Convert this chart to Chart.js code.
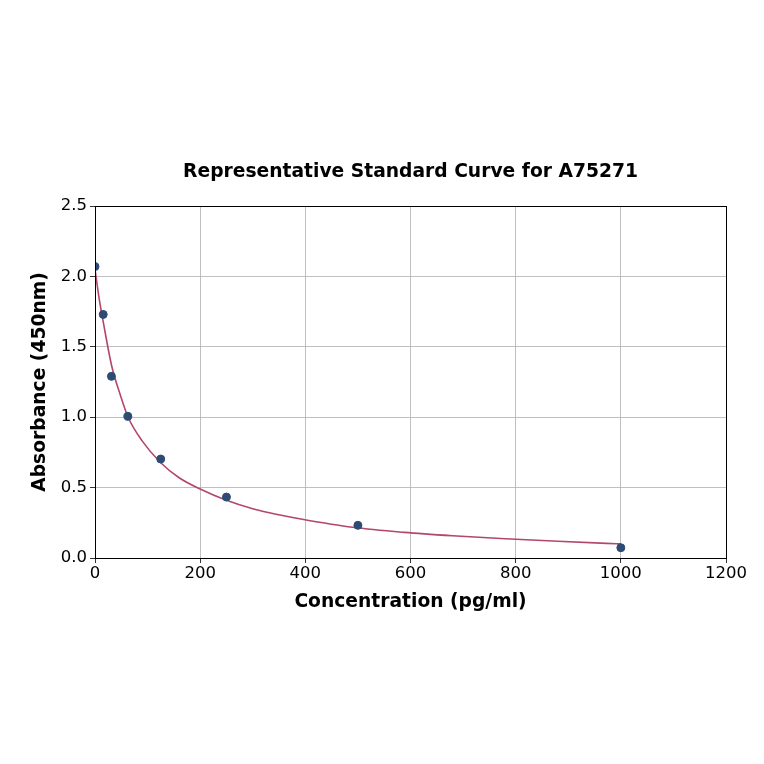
<!DOCTYPE html>
<html>
<head>
<meta charset="utf-8">
<script src="https://cdn.jsdelivr.net/npm/chart.js@4"></script>
<style>
  html, body { margin: 0; padding: 0; background: #fff; }
  #wrap { width: 764px; height: 764px; }
</style>
</head>
<body>
<div id="wrap"><canvas id="curveChart" width="764" height="764"></canvas></div>
<script>
// measured standards
const concentrations = [0, 15.625, 31.25, 62.5, 125, 250, 500, 1000];
const absorbances = [2.07, 1.73, 1.29, 1.006, 0.703, 0.433, 0.232, 0.073];

// fitted curve
const fitX = [0, 8, 16, 32, 48, 63, 90, 124, 160, 200, 250, 300, 352, 394, 490, 588, 680, 781, 880, 973, 1000];
const fitY = [2.05, 1.84, 1.67, 1.36, 1.16, 1.00, 0.83, 0.68, 0.57, 0.49, 0.41, 0.35, 0.305, 0.275, 0.218, 0.182, 0.158, 0.137, 0.119, 0.104, 0.10];

const xTicks = [0, 200, 400, 600, 800, 1000, 1200];
const yTicks = [0, 0.5, 1.0, 1.5, 2.0, 2.5];

const FONT = "'DejaVu Sans', sans-serif";
const TICK_SIZE = 16.5;
const TITLE_SIZE = 18.7;

// full box around the plot, like the reference
const frame = {
  id: 'frame',
  afterDatasetsDraw(chart) {
    const a = chart.chartArea;
    const ctx = chart.ctx;
    ctx.save();
    ctx.strokeStyle = '#000';
    ctx.lineWidth = 1;
    ctx.strokeRect(a.left + 0.5, a.top + 0.5, a.right - a.left, a.bottom - a.top);
    ctx.restore();
  }
};

document.addEventListener('DOMContentLoaded', () => {
  const ctx = document.getElementById('curveChart').getContext('2d');

  new Chart(ctx, {
    type: 'scatter',
    data: {
      datasets: [
        {
          label: 'Fit',
          data: fitX.map((x, i) => ({ x: x, y: fitY[i] })),
          showLine: true,
          borderColor: '#b3466c',
          borderWidth: 1.6,
          pointRadius: 0,
          cubicInterpolationMode: 'monotone',
          order: 2
        },
        {
          label: 'Standards',
          data: concentrations.map((x, i) => ({ x: x, y: absorbances[i] })),
          backgroundColor: '#2e4b73',
          borderColor: '#2e4b73',
          pointRadius: 4,
          clip: 0,
          order: 1
        }
      ]
    },
    options: {
      responsive: false,
      animation: false,
      layout: { padding: { left: 20, right: 38, top: 150, bottom: 146 } },
      plugins: {
        legend: { display: false },
        tooltip: { enabled: false }
      },
      scales: {
        x: {
          type: 'linear',
          min: 0,
          max: 1200,
          afterBuildTicks: axis => { axis.ticks = xTicks.map(v => ({ value: v })); },
          afterFit: axis => { axis.height = 60; },
          ticks: { color: '#000', font: { family: FONT, size: TICK_SIZE }, padding: 1, maxRotation: 0, callback: v => String(v) },
          grid: { color: '#b0b0b0', lineWidth: 0.8, tickColor: '#000', tickLength: 5, drawTicks: true },
          border: { display: false },
          title: {
            display: true,
            text: 'Concentration (pg/ml)',
            color: '#000',
            font: { family: FONT, size: TITLE_SIZE, weight: 'bold' },
            padding: { top: 0, bottom: 5 }
          }
        },
        // top axis only carries the chart title, centred over the plot
        xTop: {
          type: 'linear',
          position: 'top',
          min: 0,
          max: 1200,
          afterFit: axis => { axis.height = 56; },
          ticks: { display: false },
          grid: { display: false },
          border: { display: false },
          title: {
            display: true,
            text: 'Representative Standard Curve for A75271',
            color: '#000',
            font: { family: FONT, size: TITLE_SIZE, weight: 'bold' },
            padding: { top: 11, bottom: 0 }
          }
        },
        y: {
          min: 0,
          max: 2.5,
          afterBuildTicks: axis => { axis.ticks = yTicks.map(v => ({ value: v })); },
          afterFit: axis => { axis.width = 75; },
          ticks: { color: '#000', font: { family: FONT, size: TICK_SIZE }, padding: 3, callback: v => v.toFixed(1) },
          grid: { color: '#b0b0b0', lineWidth: 0.8, tickColor: '#000', tickLength: 5, drawTicks: true },
          border: { display: false },
          title: {
            display: true,
            text: 'Absorbance (450nm)',
            color: '#000',
            font: { family: FONT, size: TITLE_SIZE, weight: 'bold' },
            padding: { top: 9, bottom: 0 }
          }
        }
      }
    },
    plugins: [frame]
  });
});
</script>
</body>
</html>
